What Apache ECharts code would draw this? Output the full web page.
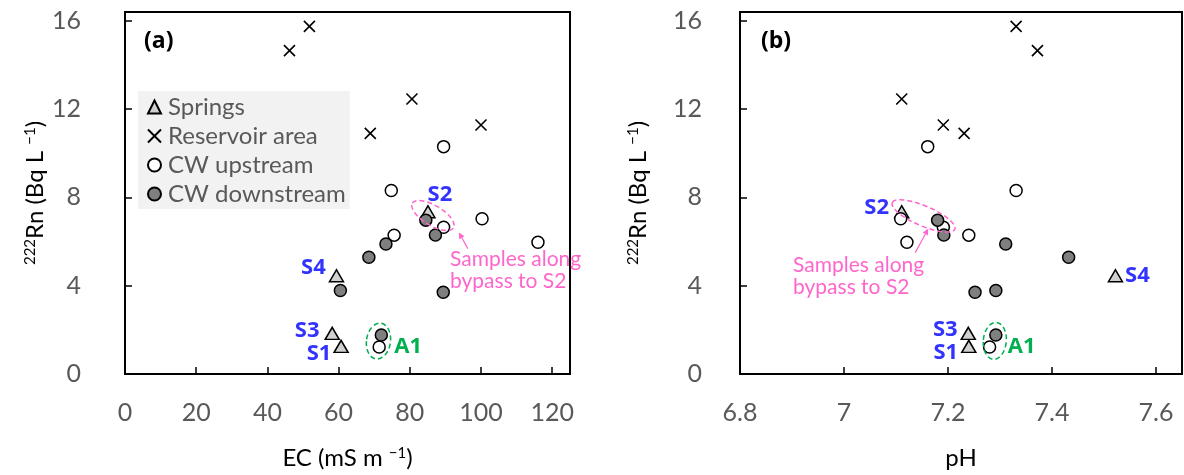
<!DOCTYPE html>
<html>
<head>
<meta charset="utf-8">
<script src="https://cdn.jsdelivr.net/npm/echarts@6/dist/echarts.min.js"></script>
<style>
  html, body { margin: 0; padding: 0; background: #fff; }
  #chart { width: 1184px; height: 475px; }
</style>
</head>
<body>
<div id="chart"></div>
<script>
// springs: S2, S4, S3, S1
const springNames = ["S2", "S4", "S3", "S1"];
const springEC = [85.1, 59.4, 58.2, 60.7];
const springPH = [7.111, 7.522, 7.239, 7.24];
const springRn = [7.35, 4.45, 1.84, 1.25];

// reservoir area
const reservoirEC = [51.8, 46.2, 80.6, 100.0, 68.9];
const reservoirPH = [7.331, 7.372, 7.111, 7.191, 7.231];
const reservoirRn = [15.75, 14.65, 12.46, 11.28, 10.9];

// CW upstream (last one is A1)
const upstreamEC = [89.5, 74.8, 100.3, 89.5, 75.6, 116.0, 71.4];
const upstreamPH = [7.161, 7.331, 7.109, 7.191, 7.24, 7.121, 7.28];
const upstreamRn = [10.3, 8.31, 7.03, 6.65, 6.29, 5.97, 1.22];
const a1Index = 6;

// CW downstream
const downstreamEC = [84.5, 87.2, 73.3, 68.5, 60.5, 89.4, 72.0];
const downstreamPH = [7.18, 7.192, 7.311, 7.432, 7.292, 7.252, 7.292];
const downstreamRn = [6.97, 6.3, 5.89, 5.29, 3.78, 3.7, 1.77];

const seriesNames = ["Springs", "Reservoir area", "CW upstream", "CW downstream"];
const rnTicks = [0, 4, 8, 12, 16];

const FONT = "Lato";
const BOLD_FONT = "Open Sans";
const BLUE = "#3333ff";
const GREEN = "#00b050";
const PINK = "#ff66cc";

// where the station names sit around their marks, per panel
const nameOffsets = [
  { S2: [12, -17], S4: [-23, -8], S3: [-25, -3], S1: [-22, 7], A1: [29, 0] },
  { S2: [-25, -4], S4: [22, 0], S3: [-23, -4], S1: [-23, 6], A1: [32, 0] },
];

const pairs = (xs, ys) => xs.map((x, i) => [x, ys[i]]);

const nameLabel = (text, offset, color) => ({
  show: true,
  formatter: text,
  position: "inside",
  offset: offset,
  color: color,
  opacity: 1,
  textBorderWidth: 0,
  textBorderColor: "transparent",
  fontFamily: BOLD_FONT,
  fontWeight: "bold",
  fontSize: 22,
});

const crossPath = "path://M0,0L10,10M10,0L0,10";

function panelSeries(gi, springX, resX, upX, downX) {
  const off = nameOffsets[gi];
  const base = { type: "scatter", xAxisIndex: gi, yAxisIndex: gi, emphasis: { disabled: true } };
  return [
    {
      ...base,
      name: seriesNames[0],
      symbol: "triangle",
      symbolSize: [14, 12],
      itemStyle: { color: "#d0d0d0", borderColor: "#000", borderWidth: 1.5, opacity: 1 },
      data: springX.map((x, i) => ({
        value: [x, springRn[i]],
        label: nameLabel(springNames[i], off[springNames[i]], BLUE),
      })),
    },
    {
      ...base,
      name: seriesNames[1],
      symbol: crossPath,
      symbolSize: 11,
      itemStyle: { color: "#000", borderColor: "#000", borderWidth: 1.6, opacity: 1 },
      data: pairs(resX, reservoirRn),
    },
    {
      ...base,
      name: seriesNames[2],
      symbol: "circle",
      symbolSize: 12,
      itemStyle: { color: "#fff", borderColor: "#000", borderWidth: 1.5, opacity: 1 },
      data: upX.map((x, i) =>
        i === a1Index
          ? { value: [x, upstreamRn[i]], label: nameLabel("A1", off.A1, GREEN) }
          : [x, upstreamRn[i]]
      ),
    },
    {
      ...base,
      name: seriesNames[3],
      symbol: "circle",
      symbolSize: 12,
      itemStyle: { color: "#7f7f7f", borderColor: "#000", borderWidth: 1.5, opacity: 1 },
      data: pairs(downX, downstreamRn),
    },
  ];
}

const tickLabel = {
  color: "#595959",
  fontFamily: FONT,
  fontSize: 25,
  showMaxLabel: false,
};
const axisBase = {
  type: "value",
  splitLine: { show: false },
  axisLine: { show: true, onZero: false, lineStyle: { color: "#000", width: 2 } },
  axisTick: { show: true, inside: true, length: 7, lineStyle: { color: "#000", width: 1.5 } },
  nameLocation: "middle",
  nameTextStyle: {
    color: "#000",
    fontFamily: FONT,
    fontSize: 24,
    rich: {
      sup: { fontSize: 15, lineHeight: 15, verticalAlign: "top", fontFamily: FONT, color: "#000" },
    },
  },
};

const yAxisFor = (gi, nameGap, margin) => ({
  ...axisBase,
  gridIndex: gi,
  min: 0,
  max: 16.4,
  interval: 4,
  name: "{sup|222}Rn (Bq L {sup|−1})",
  nameGap: nameGap,
  axisLabel: {
    ...tickLabel,
    margin: margin,
    formatter: (v) => (rnTicks.includes(v) ? String(v) : ""),
  },
});

const chart = echarts.init(document.getElementById("chart"));

const option = {
  backgroundColor: "#fff",
  animation: false,
  grid: [
    { left: 125, top: 12, width: 445, height: 363, show: true, borderColor: "#000", borderWidth: 2 },
    { left: 740, top: 12, width: 442, height: 363, show: true, borderColor: "#000", borderWidth: 2 },
  ],
  legend: {
    data: seriesNames,
    orient: "vertical",
    left: 138,
    top: 91,
    backgroundColor: "#f2f2f2",
    padding: [4, 4, 3, 9],
    itemGap: 5,
    itemWidth: 13,
    itemHeight: 13,
    selectedMode: false,
    textStyle: { color: "#595959", fontFamily: FONT, fontSize: 24, lineHeight: 24, padding: [0, 0, 0, 2] },
  },
  xAxis: [
    {
      ...axisBase,
      gridIndex: 0,
      min: 0,
      max: 125,
      interval: 20,
      name: "EC (mS m {sup|−1})",
      nameGap: 72,
      axisLabel: { ...tickLabel, margin: 26 },
    },
    {
      ...axisBase,
      gridIndex: 1,
      min: 6.8,
      max: 7.65,
      interval: 0.2,
      name: "pH",
      nameGap: 72,
      axisLabel: {
        ...tickLabel,
        margin: 26,
        formatter: (v) => String(+v.toFixed(1)),
      },
    },
  ],
  yAxis: [yAxisFor(0, 78, 44), yAxisFor(1, 90, 38)],
  series: [
    ...panelSeries(0, springEC, reservoirEC, upstreamEC, downstreamEC),
    ...panelSeries(1, springPH, reservoirPH, upstreamPH, downstreamPH),
  ],
};

chart.setOption(option);

// annotations anchored in data units
const bypassRings = [
  { gi: 0, at: [86.5, 7.18], rx: 24, ry: 10, deg: 31 },
  { gi: 1, at: [7.153, 7.16], rx: 34, ry: 10, deg: 23 },
];
const a1Rings = [
  { gi: 0, at: [71.2, 1.49], rx: 12, ry: 18, deg: 8 },
  { gi: 1, at: [7.29, 1.5], rx: 11.5, ry: 18.5, deg: 5 },
];
const bypassArrows = [
  { gi: 0, from: [96.3, 5.68], to: [93.8, 6.41] },
  { gi: 1, from: [7.137, 5.5], to: [7.162, 6.58] },
];
const bypassNotes = [
  { gi: 0, at: [91.3, 5.68] },
  { gi: 1, at: [6.902, 5.42] },
];

const toPx = (gi, p) => chart.convertToPixel({ gridIndex: gi }, p);

// deg: clockwise tilt on screen
const ring = (r, color) => {
  const c = toPx(r.gi, r.at);
  return {
    type: "ellipse",
    x: c[0],
    y: c[1],
    rotation: (-r.deg * Math.PI) / 180,
    shape: { cx: 0, cy: 0, rx: r.rx, ry: r.ry },
    style: { fill: "none", stroke: color, lineWidth: 1.5, lineDash: [5, 3] },
    z: 10,
  };
};

const arrow = (a) => {
  const p0 = toPx(a.gi, a.from);
  const p1 = toPx(a.gi, a.to);
  const dx = p1[0] - p0[0];
  const dy = p1[1] - p0[1];
  const len = Math.hypot(dx, dy);
  const ux = dx / len;
  const uy = dy / len;
  const hl = 6;
  const hw = 3;
  const bx = p1[0] - ux * hl;
  const by = p1[1] - uy * hl;
  return [
    {
      type: "line",
      shape: { x1: p0[0], y1: p0[1], x2: bx, y2: by },
      style: { stroke: PINK, lineWidth: 1.2 },
      z: 10,
    },
    {
      type: "polygon",
      shape: {
        points: [
          [p1[0], p1[1]],
          [bx - uy * hw, by + ux * hw],
          [bx + uy * hw, by - ux * hw],
        ],
      },
      style: { fill: PINK },
      z: 10,
    },
  ];
};

const note = (n) => {
  const p = toPx(n.gi, n.at);
  return {
    type: "text",
    x: p[0],
    y: p[1],
    style: {
      text: "Samples along\nbypass to S2",
      fill: PINK,
      font: "21px " + FONT,
      lineHeight: 22,
    },
    z: 10,
  };
};

const graphics = [
  { type: "text", left: 144, top: 30, style: { text: "(a)", fill: "#000", font: "bold 23px " + BOLD_FONT } },
  { type: "text", left: 761, top: 30, style: { text: "(b)", fill: "#000", font: "bold 23px " + BOLD_FONT } },
  ...bypassRings.map((r) => ring(r, PINK)),
  ...a1Rings.map((r) => ring(r, GREEN)),
  ...bypassArrows.flatMap(arrow),
  ...bypassNotes.map(note),
];

chart.setOption({ graphic: graphics });

window.addEventListener("resize", () => chart.resize());
</script>
</body>
</html>
